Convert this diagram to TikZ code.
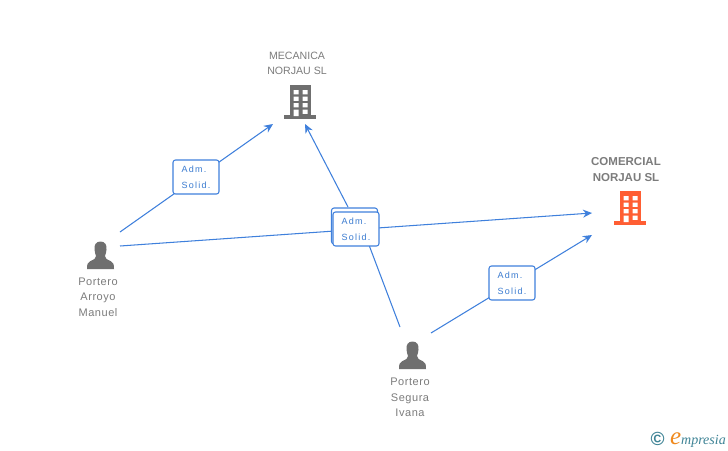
\documentclass[tikz,border=0pt]{standalone}
\usepackage{fontspec}
\setmainfont{Liberation Sans}
\newfontfamily\spaced[LetterSpace=5]{Liberation Sans}
\newfontfamily\wide[LetterSpace=14]{Liberation Sans}
\newfontfamily\logofont{Liberation Serif}
\usetikzlibrary{arrows.meta}
\definecolor{linkblue}{HTML}{3F80DC}
\definecolor{labelblue}{HTML}{3A7BD0}
\definecolor{txtgrey}{HTML}{7C7C7C}
\definecolor{icongrey}{HTML}{6F6F6F}
\definecolor{orangered}{HTML}{FF5E33}
\definecolor{logoteal}{HTML}{3F8496}
\definecolor{logoorange}{HTML}{F08A1E}
\tikzset{
  x=1pt,y=-1pt,
  link/.style={draw=linkblue,line width=1.05pt},
  linkarrow/.style={link,-{Stealth[length=9pt,width=8pt]}},
  relbox/.style={draw=linkblue,fill=white,rounded corners=2.5pt,line width=1.05pt,minimum width=46pt,minimum height=34pt,inner sep=0pt,align=left,text=labelblue,font=\wide\fontsize{9}{16}\selectfont},
  caption/.style={text=txtgrey,align=center,inner sep=0pt,font=\spaced\fontsize{11}{15.5}\selectfont},
  capscaption/.style={text=txtgrey,align=center,inner sep=0pt,font=\fontsize{10.6}{15}\selectfont},
  captionbold/.style={text=txtgrey,align=center,inner sep=0pt,font=\bfseries\fontsize{11.5}{16}\selectfont}
}
\newcommand{\buildingicon}[3]{% x of body left, top y, colour
  \begin{scope}[shift={(#1,#2)}]
    \fill[#3] (0,0) rectangle (21.7,31);
    \fill[#3] (-5.5,30) rectangle (26.5,33.5);
    \fill[white] (4,5) rectangle (9,9.3) (13,5) rectangle (18,9.3)
                 (4,11.5) rectangle (9,15.8) (13,11.5) rectangle (18,15.8)
                 (4,18) rectangle (9,22.3) (13,18) rectangle (18,22.3)
                 (4,24.5) rectangle (9,31) (13,24.5) rectangle (18,28.8);
  \end{scope}}
\newcommand{\personicon}[2]{% centre x, top y
  \begin{scope}[shift={(#1,#2)}]
    \fill[icongrey] (0,0) .. controls (-4.5,0) and (-6.5,3.5) .. (-6,8)
      .. controls (-5.8,11) and (-5,13) .. (-4.5,14.5)
      .. controls (-4.5,17) and (-6.5,18) .. (-10,19.5)
      .. controls (-13,20.5) and (-13.5,23) .. (-13.5,27.5)
      -- (13.5,27.5)
      .. controls (13.5,23) and (13,20.5) .. (10,19.5)
      .. controls (6.5,18) and (4.5,17) .. (4.5,14.5)
      .. controls (5,13) and (5.8,11) .. (6,8)
      .. controls (6.5,3.5) and (4.5,0) .. (0,0) -- cycle;
  \end{scope}}
\begin{document}
\begin{tikzpicture}
\useasboundingbox (0,0) rectangle (728,450);
\fill[white] (0,0) rectangle (728,450);

% icons
\buildingicon{289.5}{85}{icongrey}
\buildingicon{619.5}{191}{orangered}
\personicon{100.5}{241.5}
\personicon{412.5}{341.5}

% connector ends
\coordinate (p1a) at (120,232);
\coordinate (p1b) at (120,246);
\coordinate (p2a) at (400,327);
\coordinate (p2b) at (431,333);
\coordinate (mecL) at (273,124);
\coordinate (mecR) at (305,124);
\coordinate (comA) at (592,213);
\coordinate (comB) at (592,235);
\coordinate (midlow) at (369,245);
\coordinate (midup) at (348,207);

% connectors
\draw[linkarrow] (p1a) -- (mecL);
\draw[linkarrow] (p1b) -- (comA);
\draw[link] (p2a) -- (midlow);
\draw[linkarrow] (midup) -- (mecR);
\draw[linkarrow] (p2b) -- (comB);

% relation boxes
\node[relbox] (r1) at (196,177) {\raisebox{-1pt}{Adm.}\\\raisebox{-1pt}{Solid.}};
\node[relbox] (r4) at (512,283) {\raisebox{-1pt}{Adm.}\\\raisebox{-1pt}{Solid.}};
\node[relbox,minimum height=36pt] (r2) at (354.5,226) {};
\node[relbox] (r3) at (356,229) {\raisebox{-1pt}{Adm.}\\\raisebox{-1pt}{Solid.}};

% captions
\node[capscaption] (mec) at (297,63.5) {MECANICA\\NORJAU SL};
\node[captionbold] (com) at (626,169.5) {COMERCIAL\\NORJAU SL};
\node[caption] (pa) at (98,297) {Portero\\Arroyo\\Manuel};
\node[caption] (pb) at (410,397.5) {Portero\\Segura\\Ivana};

% logo
\node[inner sep=0pt,text=logoteal] (copy) at (657.5,439) {\fontsize{19}{19}\selectfont\bfseries ©};
\node[inner sep=0pt,text=logoorange,anchor=base west] (logoe) at (670,444) {\logofont\itshape\fontsize{25}{25}\selectfont e};
\node[inner sep=0pt,text=logoteal,anchor=base west] (logot) at (681,444) {\logofont\itshape\fontsize{14}{14}\selectfont mpresia};
\end{tikzpicture}
\end{document}
